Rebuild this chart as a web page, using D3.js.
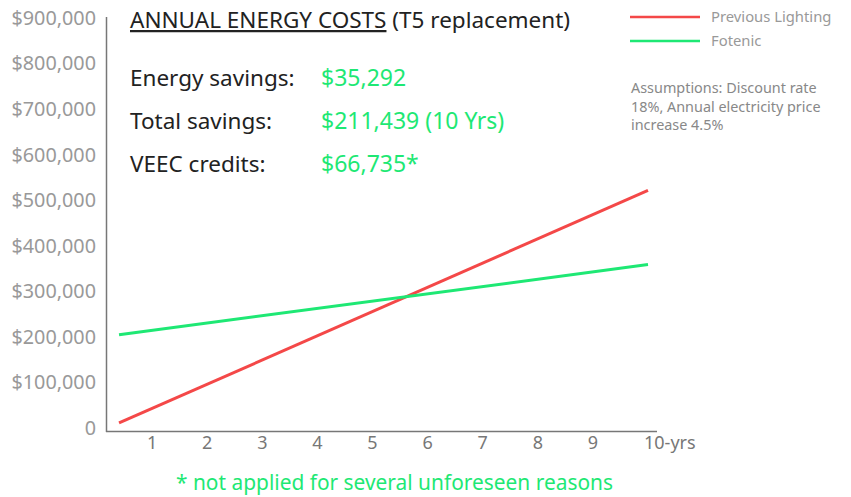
<!DOCTYPE html>
<html>
<head>
<meta charset="utf-8">
<script src="https://cdn.jsdelivr.net/npm/d3@7"></script>
<style>
  body { margin: 0; background: #fff; }
  svg { display: block; font-family: "Noto Sans", "Open Sans", sans-serif; }
</style>
</head>
<body>
<div id="chart"></div>
<script>
// data
const years = [0.4, 10];
const previousLighting = [11000, 521500];
const fotenic = [204700, 358700];
const xTicks = [1, 2, 3, 4, 5, 6, 7, 8, 9, 10];
const xTickLabels = ["1", "2", "3", "4", "5", "6", "7", "8", "9", "10-yrs"];
const yTicks = [0, 100000, 200000, 300000, 400000, 500000, 600000, 700000, 800000, 900000];
const seriesNames = ["Previous Lighting", "Fotenic"];
const summaryLabels = ["Energy savings:", "Total savings:", "VEEC credits:"];
const summaryValues = ["$35,292", "$211,439 (10 Yrs)", "$66,735*"];

const W = 851, H = 497;
const RED = "#f44848", GREEN = "#1ee874";

const svg = d3.select("#chart").append("svg")
    .attr("width", W)
    .attr("height", H);

const x = d3.scaleLinear().domain([0, 10]).range([97, 648]);
const y = d3.scaleLinear().domain([0, 900000]).range([428, 18]);

// y axis (line + labels)
svg.append("line")
    .attr("x1", 106.5).attr("x2", 106.5)
    .attr("y1", 17).attr("y2", 432)
    .attr("stroke", "#777").attr("stroke-width", 1.5);

svg.selectAll("text.ylab")
    .data(yTicks)
    .enter()
    .append("text")
    .attr("class", "ylab")
    .attr("x", 96)
    .attr("y", d => y(d))
    .attr("dy", "0.35em")
    .attr("text-anchor", "end")
    .style("font-size", "19.8px")
    .style("fill", "#999")
    .text(d => d === 0 ? "0" : "$" + d3.format(",")(d));

// x axis
svg.append("line")
    .attr("x1", 106).attr("x2", 657)
    .attr("y1", 431.5).attr("y2", 431.5)
    .attr("stroke", "#777").attr("stroke-width", 1.5);

svg.selectAll("text.xlab")
    .data(xTicks)
    .enter()
    .append("text")
    .attr("class", "xlab")
    .attr("x", d => d === 10 ? x(d) - 4 : x(d))
    .attr("y", 443)
    .attr("dy", "0.35em")
    .attr("text-anchor", d => d === 10 ? "start" : "middle")
    .style("font-size", "18px")
    .style("fill", "#777")
    .text((d, i) => xTickLabels[i]);

// lines
const line = d3.line()
    .x((d, i) => x(years[i]))
    .y(d => y(d));

[[previousLighting, RED], [fotenic, GREEN]].forEach(([vals, col]) => {
    svg.append("path")
        .datum(vals)
        .attr("fill", "none")
        .attr("stroke", col)
        .attr("stroke-width", 3)
        .attr("d", line);
});

// title
const title = svg.append("text")
    .attr("x", 130)
    .attr("y", 28)
    .style("font-size", "22.5px")
    .style("fill", "#222");
title.append("tspan")
    .attr("text-decoration", "underline")
    .style("text-decoration", "underline")
    .text("ANNUAL ENERGY COSTS");
title.append("tspan").text(" (T5 replacement)");

// summary rows
summaryLabels.forEach((lab, i) => {
    const yy = 78 + i * 43;
    svg.append("text")
        .attr("x", 130).attr("y", yy).attr("dy", "0.35em")
        .style("font-size", "22.5px").style("fill", "#222")
        .text(lab);
    svg.append("text")
        .attr("x", 321).attr("y", yy).attr("dy", "0.35em")
        .style("font-size", "23px").style("fill", GREEN)
        .text(summaryValues[i]);
});

// legend
const legend = svg.append("g");
[RED, GREEN].forEach((col, i) => {
    const yy = 17 + i * 24;
    legend.append("line")
        .attr("x1", 630).attr("x2", 700)
        .attr("y1", yy).attr("y2", yy)
        .attr("stroke", col).attr("stroke-width", 2.5);
    legend.append("text")
        .attr("x", 711).attr("y", yy).attr("dy", "0.35em")
        .style("font-size", "14.8px").style("fill", "#999")
        .text(seriesNames[i]);
});

// assumptions note
const note = svg.append("text")
    .attr("x", 631)
    .attr("y", 88)
    .style("font-size", "14.4px")
    .style("fill", "#888");
["Assumptions: Discount rate", "18%, Annual electricity price", "increase 4.5%"].forEach((t, i) => {
    note.append("tspan")
        .attr("x", 631)
        .attr("y", 88 + i * 18.5)
        .attr("dy", "0.35em")
        .text(t);
});

// footnote
svg.append("text")
    .attr("x", 176)
    .attr("y", 483)
    .attr("dy", "0.35em")
    .style("font-size", "20.9px")
    .style("fill", GREEN)
    .text("* not applied for several unforeseen reasons");
</script>
</body>
</html>
